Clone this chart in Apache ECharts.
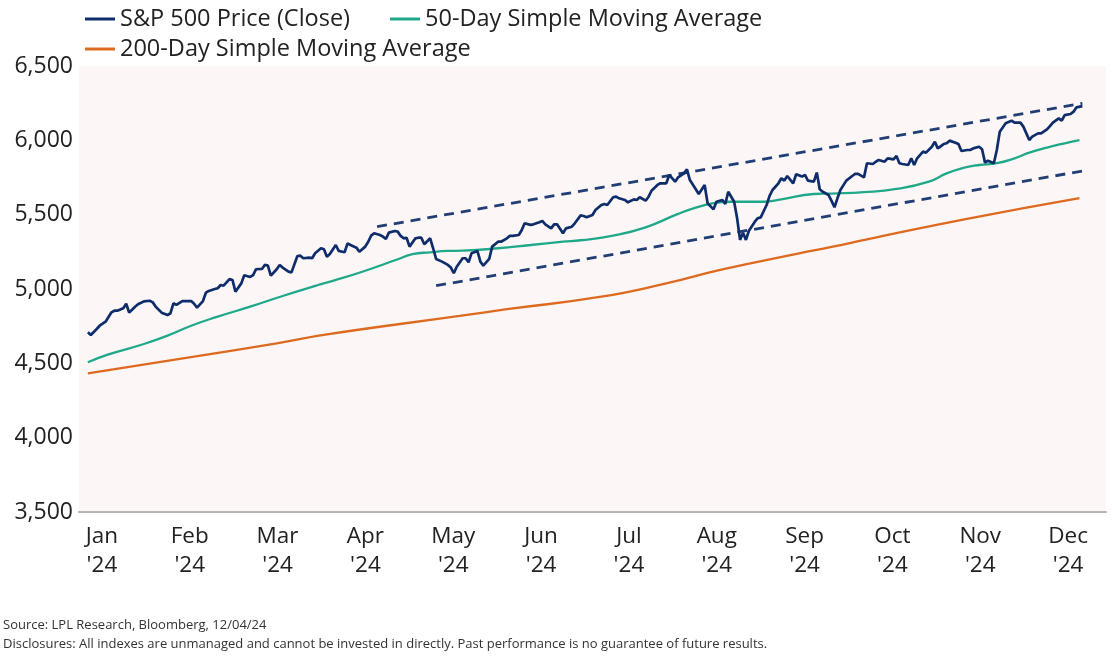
<!DOCTYPE html>
<html><head><meta charset="utf-8">
<script src="https://cdn.jsdelivr.net/npm/echarts@6/dist/echarts.min.js"></script>
<style>html,body{margin:0;padding:0;background:#fff;} #c{width:1112px;height:659px;}</style>
</head><body><div id="c"></div>
<script>
// x values are day-of-year 2024 (Jan 1 = 0)
const monthLabels = ["Jan\n'24","Feb\n'24","Mar\n'24","Apr\n'24","May\n'24","Jun\n'24","Jul\n'24","Aug\n'24","Sep\n'24","Oct\n'24","Nov\n'24","Dec\n'24"];
const yTicks = [3500, 4000, 4500, 5000, 5500, 6000, 6500];

const priceDay = [1,2,4,5,7,9,10,11,13,14,15,17,18,20,22,23,24,26,28,29,30,31,33,34,36,37,38,40,41,42,44,45,46,47,49,50,51,53,54,56,57,58,60,61,62,63,65,66,67,69,70,72,73,74,76,77,78,80,81,82,
83,85,86,88,89,90,92,93,95,96,97,98,100,101,102,103,105,106,107,108,109,110,112,113,114,115,117,118,119,121,123,124,125,126,128,129,130,131,133,134,135,137,138,140,141,143,144,145,147,148,149,151,152,154,155,156,158,159,160,162,163,165,166,168,
169,170,172,173,175,176,177,179,180,181,183,184,186,187,188,190,191,192,194,195,197,198,200,201,203,204,205,207,208,210,211,213,214,216,217,218,220,221,222,223,224,225,227,228,229,231,232,233,235,236,237,238,240,241,243,244,245,247,248,249,250,252,253,
254,255,256,258,260,261,262,264,265,267,268,269,271,272,274,275,276,277,279,280,281,282,284,285,287,288,289,291,292,293,295,296,297,299,300,301,303,304,305,306,308,309,310,312,314,315,317,318,320,321,323,324,326,327,328,330,331,332,334,335,336,338];
const priceClose = [4709,4691,4731,4753,4780,4843,4854,4854,4870,4901,4841,4881,4897,4917,4921,4910,4881,4841,4825,4837,4904,4893,4919,4919,4919,4901,4875,4919,4975,4987,5000,5005,5027,5022,5067,5061,4982,5038,5092,5081,5094,5133,5135,5162,5157,5090,5133,5162,5144,5117,5112,5222,5224,5207,5211,5207,5240,5274,5267,5217,
5235,5296,5256,5247,5307,5296,5278,5251,5285,5318,5359,5375,5363,5352,5336,5379,5390,5386,5357,5341,5345,5285,5341,5345,5345,5301,5341,5274,5202,5184,5162,5144,5106,5150,5207,5207,5180,5240,5256,5184,5157,5202,5285,5318,5318,5341,5357,5357,5363,5395,5442,5431,5435,5449,5458,5435,5408,5435,5435,5375,5408,5419,5442,5495,
5491,5482,5498,5531,5565,5572,5565,5617,5621,5610,5599,5583,5603,5599,5617,5594,5621,5661,5700,5711,5711,5767,5722,5751,5778,5805,5733,5671,5639,5700,5577,5536,5587,5599,5572,5654,5587,5476,5330,5379,5330,5392,5453,5476,5482,5565,5626,5666,5711,5745,5729,5760,5711,5772,5756,5767,5729,5722,5783,5671,5654,5632,5593,
5550,5610,5666,5729,5760,5774,5774,5751,5846,5841,5856,5868,5856,5879,5872,5895,5846,5841,5834,5879,5834,5879,5924,5917,5957,5991,5946,5975,5980,5998,5984,5975,5928,5935,5935,5946,5957,5940,5850,5863,5846,5935,6058,6115,6132,6119,6119,6092,6002,6025,6047,6047,6074,6096,6119,6148,6132,6170,6177,6193,6222,6230];

const ma50Day = [1,8,20,28,36,45,56,67,79,84,94,106,111,117,123,128,140,151,162,168,179,190,201,207,213,219,224,230,236,247,253,264,275,286,292,298,303,309,315,320,326,332,337];
const ma50 = [4507,4560,4630,4686,4753,4814,4881,4953,5027,5055,5116,5200,5234,5247,5256,5258,5274,5296,5318,5328,5359,5415,5505,5547,5577,5587,5587,5587,5603,5639,5642,5651,5673,5722,5778,5816,5834,5846,5879,5917,5951,5980,6002];

const ma200Day = [1,37,65,82,127,143,175,197,216,242,253,265,298,337];
const ma200 = [4433,4545,4635,4695,4819,4864,4948,5038,5132,5240,5283,5334,5469,5612];

const upperTrendDay = [99, 338];
const upperTrend = [5419, 6249];
const lowerTrendDay = [119, 338];
const lowerTrend = [5022, 5794];

const zip = (a, b) => a.map((d, i) => [d, b[i]]);

const FONT = 'Open Sans';
const chart = echarts.init(document.getElementById('c'));
chart.setOption({
  animation: false,
  textStyle: { fontFamily: FONT },
  legend: [
    { data: ['S&P 500 Price (Close)', '50-Day Simple Moving Average'], left: 80, top: 2, icon: 'rect', itemWidth: 30, itemHeight: 3, itemGap: 40,
      textStyle: { fontSize: 23.5, color: '#222', fontFamily: FONT } },
    { data: ['200-Day Simple Moving Average'], left: 80, top: 32, icon: 'rect', itemWidth: 30, itemHeight: 3,
      textStyle: { fontSize: 23.5, color: '#222', fontFamily: FONT } }
  ],
  grid: [
    { left: 79, right: 6, top: 66, bottom: 147, show: true, backgroundColor: '#fdf6f6', borderWidth: 0 },
    { left: 58, right: 0, top: 66, bottom: 147, show: false }
  ],
  xAxis: [
    { type: 'value', gridIndex: 0, min: -2, max: 346, axisLine: { show: true, lineStyle: { color: '#b5b5b5', width: 2 } },
      axisTick: { show: false }, axisLabel: { show: false }, splitLine: { show: false } },
    { type: 'category', gridIndex: 1, data: monthLabels, boundaryGap: true, axisLine: { show: false }, axisTick: { show: false },
      axisLabel: { interval: 0, fontSize: 22.5, color: '#222', lineHeight: 29, margin: 10, fontFamily: FONT } }
  ],
  yAxis: [
    { type: 'value', gridIndex: 0, min: yTicks[0], max: yTicks[yTicks.length - 1], interval: 500,
      axisLine: { show: false }, axisTick: { show: false }, splitLine: { show: false },
      axisLabel: { fontSize: 23, color: '#222', margin: 6, fontFamily: FONT, formatter: v => v.toLocaleString('en-US') } },
    { type: 'value', gridIndex: 1, show: false }
  ],
  graphic: [
    { type: 'text', left: 3, top: 619, style: { text: 'Source: LPL Research, Bloomberg, 12/04/24', font: '13px "Open Sans"', fill: '#333' } },
    { type: 'text', left: 3, top: 638, style: { text: 'Disclosures: All indexes are unmanaged and cannot be invested in directly. Past performance is no guarantee of future results.', font: '13px "Open Sans"', fill: '#333' } }
  ],
  series: [
    { name: '200-Day Simple Moving Average', type: 'line', data: zip(ma200Day, ma200), showSymbol: false, smooth: true,
      lineStyle: { color: '#dd6a1f', width: 2.3 }, itemStyle: { color: '#dd6a1f' } },
    { name: '50-Day Simple Moving Average', type: 'line', data: zip(ma50Day, ma50), showSymbol: false, smooth: true,
      lineStyle: { color: '#1fa98a', width: 2.3 }, itemStyle: { color: '#1fa98a' } },
    { name: 'Upper Trend', type: 'line', data: zip(upperTrendDay, upperTrend), showSymbol: false,
      lineStyle: { color: '#213f74', width: 2.8, type: [10, 7] } },
    { name: 'Lower Trend', type: 'line', data: zip(lowerTrendDay, lowerTrend), showSymbol: false,
      lineStyle: { color: '#213f74', width: 2.8, type: [10, 7] } },
    { name: 'S&P 500 Price (Close)', type: 'line', data: zip(priceDay, priceClose), showSymbol: false,
      lineStyle: { color: '#0e2d6a', width: 2.7 }, itemStyle: { color: '#0e2d6a' } }
  ]
});
</script></body></html>
